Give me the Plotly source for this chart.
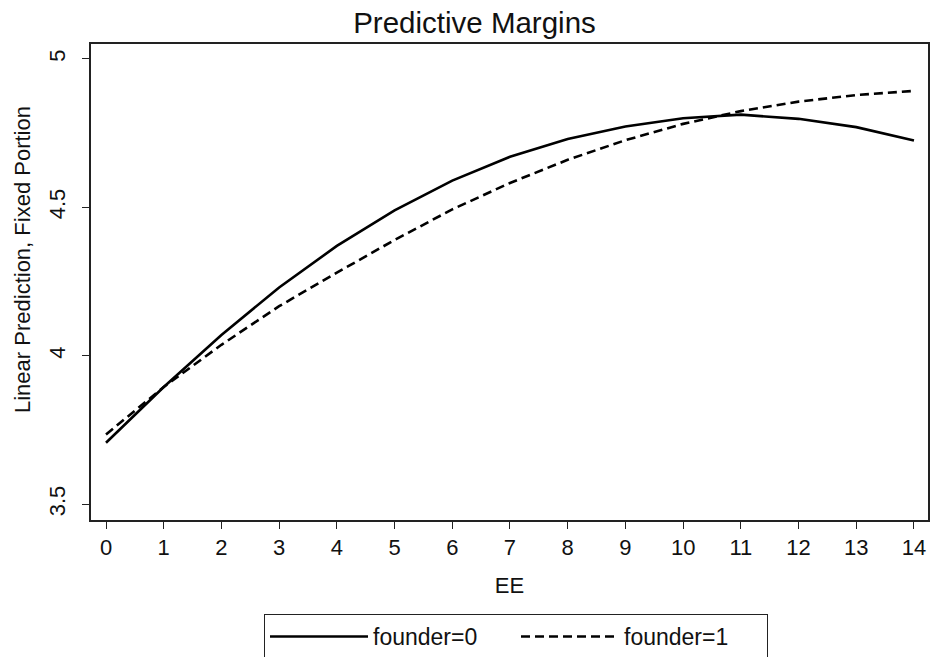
import plotly.graph_objects as go

ee = list(range(0, 15))
founder0 = [3.707, 3.895, 4.07, 4.23, 4.37, 4.49, 4.59, 4.67, 4.73, 4.772, 4.80, 4.812, 4.798, 4.77, 4.725]
founder1 = [3.735, 3.895, 4.037, 4.167, 4.28, 4.39, 4.493, 4.582, 4.66, 4.726, 4.781, 4.824, 4.856, 4.878, 4.892]
x_ticks = list(range(0, 15))
y_ticks = [3.5, 4, 4.5, 5]
y_tick_labels = ["3.5", "4", "4.5", "5"]

FONT = "Liberation Sans, Arial, sans-serif"
INK = "#111"

W, H = 930, 657
L, T, R, B = 91, 44, 2, 137
plot_w = W - L - R
plot_h = H - T - B

fig = go.Figure()
fig.add_trace(go.Scatter(x=ee, y=founder0, mode="lines", name="founder=0",
                         line=dict(color="black", width=2.6)))
fig.add_trace(go.Scatter(x=ee, y=founder1, mode="lines", name="founder=1",
                         line=dict(color="black", width=2.6, dash="9px,5px")))

fig.update_layout(
    width=W, height=H,
    margin=dict(l=L, r=R, t=T, b=B, autoexpand=False),
    paper_bgcolor="white", plot_bgcolor="white",
    font=dict(family=FONT, size=22, color=INK),
    title=dict(text="Predictive Margins", x=474.5 / W, xref="container", xanchor="center",
               y=1 - 22.5 / H, yref="container", yanchor="middle",
               font=dict(size=29.5, color=INK)),
    showlegend=True,
    legend=dict(orientation="h", x=(264 - L) / plot_w, xanchor="left", xref="paper",
                y=(plot_h - (614 - T)) / plot_h, yanchor="top", yref="paper",
                bordercolor="#222", borderwidth=1, bgcolor="white",
                font=dict(size=23, color=INK),
                itemwidth=98, entrywidth=138, entrywidthmode="pixels",
                tracegroupgap=0),
    annotations=[dict(text="Linear Prediction, Fixed Portion", textangle=-90,
                      xref="paper", yref="paper",
                      x=(22 - L) / plot_w, y=(T + plot_h - 260) / plot_h,
                      xanchor="center", yanchor="middle", showarrow=False,
                      font=dict(size=22, color=INK))],
)

fig.update_xaxes(
    range=[-0.26, 14.243], tickmode="array", tickvals=x_ticks,
    ticks="outside", ticklen=7, tickwidth=1.3, tickcolor="#222",
    showline=True, linecolor="#222", linewidth=1.5, mirror=True,
    showgrid=False, zeroline=False, automargin=False,
    tickfont=dict(size=22, color=INK),
    title=dict(text="EE", font=dict(size=22, color=INK), standoff=18),
)
fig.update_yaxes(
    range=[3.447, 5.05], tickmode="array", tickvals=y_ticks, ticktext=y_tick_labels,
    tickangle=-90, ticklabelstandoff=8,
    ticks="outside", ticklen=7, tickwidth=1.3, tickcolor="#222",
    showline=True, linecolor="#222", linewidth=1.5, mirror=True,
    showgrid=False, zeroline=False, automargin=False,
    tickfont=dict(size=22, color=INK),
)

# Remove the browser's default 8px body margin so the figure fills the window.
fig.write_html("out.html", config={"displayModeBar": False},
               post_script="document.body.style.margin='0';document.body.style.overflow='hidden';")
